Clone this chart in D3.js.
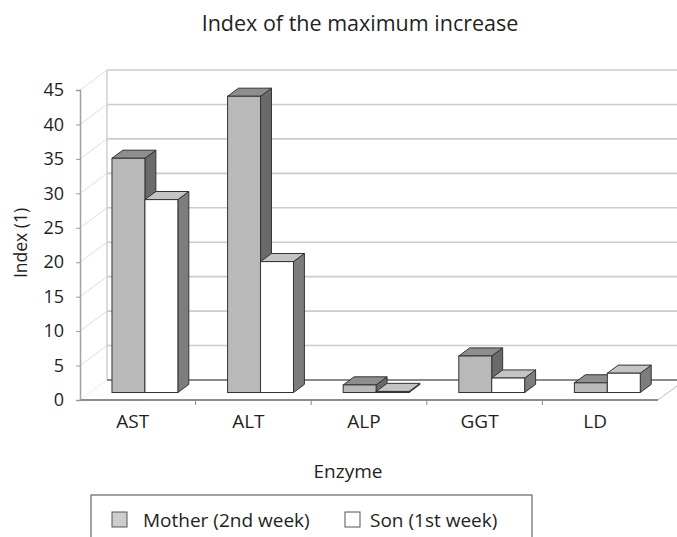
<!DOCTYPE html>
<html>
<head>
<meta charset="utf-8">
<script src="https://cdn.jsdelivr.net/npm/d3@7"></script>
<style>
  body { margin: 0; background: #fff; }
  text { font-family: "Open Sans", sans-serif; fill: #231f20; }
</style>
</head>
<body>
<script>
// Chart values
var enzymes = ["AST", "ALT", "ALP", "GGT", "LD"];
var motherValues = [34, 43, 1.1, 5.3, 1.4];
var sonValues = [28, 19, 0.15, 2.1, 2.8];
var seriesNames = ["Mother (2nd week)", "Son (1st week)"];
var yTicks = [0, 5, 10, 15, 20, 25, 30, 35, 40, 45];

var svgWidth = 677;
var svgHeight = 537;

// depth of the 3D box (offset of back wall against front axis)
var depthX = 27;
var depthY = -20;
function dOff(f) { return [depthX * f, depthY * f]; }

var svg = d3.select("body").append("svg")
  .attr("width", svgWidth)
  .attr("height", svgHeight);

// scales
var y = d3.scaleLinear().domain([0, 45]).range([400, 90]);
var xFloor = d3.scaleBand().domain(enzymes).range([80, 658]);
var xBar = d3.scaleBand().domain(enzymes).range([77, 655])
  .paddingInner(0.43).paddingOuter(0.215);
var xSub = d3.scaleBand().domain([0, 1]).range([0, xBar.bandwidth()]);

var floorLeft = 80, floorRight = 658;
var back = dOff(1);

// left side wall diagonals
svg.append("g").selectAll("line")
  .data(yTicks)
  .enter().append("line")
  .attr("x1", floorLeft).attr("y1", d => y(d))
  .attr("x2", floorLeft + back[0]).attr("y2", d => y(d) + back[1])
  .attr("stroke", "#dedede").attr("stroke-width", 1);

// back wall left edge
svg.append("line")
  .attr("x1", floorLeft + back[0]).attr("y1", y(0) + back[1])
  .attr("x2", floorLeft + back[0]).attr("y2", y(45) + back[1])
  .attr("stroke", "#cfcfcf").attr("stroke-width", 1.5);

// back wall gridlines
svg.append("g").selectAll("line")
  .data(yTicks.slice(1))
  .enter().append("line")
  .attr("x1", floorLeft + back[0]).attr("y1", d => y(d) + back[1])
  .attr("x2", floorRight + back[0]).attr("y2", d => y(d) + back[1])
  .attr("stroke", "#cccccc").attr("stroke-width", 1.6);

// floor
svg.append("polygon")
  .attr("points", [
    [floorLeft, y(0)], [floorRight, y(0)],
    [floorRight + back[0], y(0) + back[1]], [floorLeft + back[0], y(0) + back[1]]
  ].map(p => p.join(",")).join(" "))
  .attr("fill", "#fff");

svg.append("line")
  .attr("x1", floorLeft + back[0]).attr("y1", y(0) + back[1])
  .attr("x2", floorRight + back[0]).attr("y2", y(0) + back[1])
  .attr("stroke", "#8a8a8a").attr("stroke-width", 2);

svg.append("line")
  .attr("x1", floorRight).attr("y1", y(0))
  .attr("x2", floorRight + back[0]).attr("y2", y(0) + back[1])
  .attr("stroke", "#bbbbbb").attr("stroke-width", 1);

// bars
var f1 = dOff(0.375);
var f2 = dOff(0.78);
var styles = [
  { front: "#b9b9b9", top: "#8e8e8e", side: "#6a6a6a" },
  { front: "#ffffff", top: "#c4c4c4", side: "#7d7d7d" }
];

var barData = [];
enzymes.forEach(function(e, i) {
  barData.push({ cat: e, s: 0, v: motherValues[i] });
  barData.push({ cat: e, s: 1, v: sonValues[i] });
});

function pts(arr) { return arr.map(p => p.join(",")).join(" "); }

var barGroups = svg.append("g").selectAll("g")
  .data(barData)
  .enter().append("g");

barGroups.each(function(d) {
  var g = d3.select(this);
  var xl = xBar(d.cat) + xSub(d.s);
  var xr = xl + xSub.bandwidth();
  var yt = y(d.v);
  var yb = y(0);
  var st = styles[d.s];

  g.append("polygon")
    .attr("points", pts([[xr + f1[0], yt + f1[1]], [xr + f2[0], yt + f2[1]],
      [xr + f2[0], yb + f2[1]], [xr + f1[0], yb + f1[1]]]))
    .attr("fill", st.side).attr("stroke", "#333").attr("stroke-width", 1)
    .attr("stroke-linejoin", "round");

  g.append("polygon")
    .attr("points", pts([[xl + f1[0], yt + f1[1]], [xr + f1[0], yt + f1[1]],
      [xr + f2[0], yt + f2[1]], [xl + f2[0], yt + f2[1]]]))
    .attr("fill", st.top).attr("stroke", "#333").attr("stroke-width", 1)
    .attr("stroke-linejoin", "round");

  g.append("rect")
    .attr("x", xl + f1[0])
    .attr("y", yt + f1[1])
    .attr("width", xSub.bandwidth())
    .attr("height", yb - yt)
    .attr("fill", st.front).attr("stroke", "#333").attr("stroke-width", 1);
});

// front floor edge / x axis
svg.append("line")
  .attr("x1", floorLeft).attr("y1", y(0))
  .attr("x2", floorRight).attr("y2", y(0))
  .attr("stroke", "#8c8c8c").attr("stroke-width", 2);

svg.append("g").selectAll("line")
  .data(enzymes.slice(1))
  .enter().append("line")
  .attr("x1", d => xFloor(d)).attr("x2", d => xFloor(d))
  .attr("y1", y(0)).attr("y2", y(0) + 5)
  .attr("stroke", "#888");

// y axis
var yAxis = svg.append("g")
  .attr("transform", `translate(${floorLeft}, 0)`)
  .call(d3.axisLeft(y).tickValues(yTicks).tickSize(4).tickPadding(12));
yAxis.select(".domain").attr("stroke", "#a0a0a0").attr("stroke-width", 1.5);
yAxis.selectAll(".tick line").attr("stroke", "#999");
yAxis.selectAll(".tick text")
  .style("font-family", "'Open Sans', sans-serif")
  .style("font-size", "18px")
  .attr("fill", "#231f20");

// category labels
svg.append("g").selectAll("text")
  .data(enzymes)
  .enter().append("text")
  .attr("x", d => xFloor(d) + xFloor.bandwidth() / 2 - 5)
  .attr("y", 428)
  .attr("text-anchor", "middle")
  .style("font-size", "19px")
  .text(d => d);

// title
svg.append("text")
  .attr("x", 360).attr("y", 31)
  .attr("text-anchor", "middle")
  .style("font-size", "21.5px")
  .text("Index of the maximum increase");

// axis titles
svg.append("text")
  .attr("x", 348).attr("y", 478)
  .attr("text-anchor", "middle")
  .style("font-size", "19px")
  .text("Enzyme");

svg.append("text")
  .attr("transform", "translate(27, 243) rotate(-90)")
  .attr("text-anchor", "middle")
  .style("font-size", "17.5px")
  .text("Index (1)");

// legend
svg.append("rect")
  .attr("x", 91).attr("y", 495)
  .attr("width", 441).attr("height", 60)
  .attr("fill", "none").attr("stroke", "#666").attr("stroke-width", 1.2);

var legendX = [112, 345];
var legendFill = ["#cdcdcd", "#ffffff"];
var legend = svg.append("g").selectAll("g")
  .data(seriesNames)
  .enter().append("g")
  .attr("transform", (d, i) => `translate(${legendX[i]}, 512)`);

legend.append("rect")
  .attr("width", 15).attr("height", 15)
  .attr("fill", (d, i) => legendFill[i])
  .attr("stroke", "#555");

legend.append("text")
  .attr("x", (d, i) => i === 0 ? 31 : 25)
  .attr("y", 15)
  .style("font-size", "19px")
  .text(d => d);
</script>
</body>
</html>
